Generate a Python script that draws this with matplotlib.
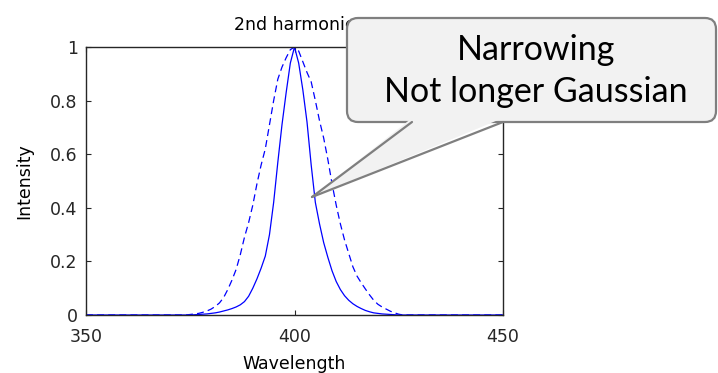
import matplotlib
matplotlib.use("Agg")
import matplotlib.pyplot as plt
from matplotlib.patches import FancyBboxPatch, Polygon
from matplotlib.lines import Line2D
from matplotlib.transforms import IdentityTransform

wavelength = [350,
              374, 375, 376, 377, 378, 379, 380, 381, 382, 383, 384, 385, 386,
              387, 388, 389, 390, 391, 392, 393, 394, 395, 396, 397, 398, 399,
              400,
              401, 402, 403, 404, 405, 406, 407, 408, 409, 410, 411, 412, 413,
              414, 415, 416, 417, 418, 419, 420, 421, 422, 423, 424, 425, 426,
              450]

# harmonic (narrower, solid)
shg = [0,
       0, 0, 0.001, 0.002, 0.003, 0.004, 0.006, 0.008, 0.011, 0.015, 0.019, 0.024, 0.03,
       0.038, 0.05, 0.07, 0.10, 0.135, 0.175, 0.22, 0.30, 0.42, 0.57, 0.71, 0.83, 0.94,
       1.0,
       0.94, 0.84, 0.72, 0.56, 0.42, 0.34, 0.27, 0.215, 0.165, 0.125, 0.095, 0.072, 0.055,
       0.042, 0.032, 0.024, 0.017, 0.012, 0.008, 0.006, 0.004, 0.003, 0.002, 0.001, 0, 0,
       0]

# gaussian reference (dashed)
gauss = [0,
         0, 0.002, 0.004, 0.006, 0.01, 0.015, 0.022, 0.032, 0.045, 0.065, 0.095, 0.13, 0.17,
         0.225, 0.29, 0.345, 0.41, 0.49, 0.56, 0.62, 0.71, 0.80, 0.88, 0.925, 0.96, 0.99,
         1.0,
         0.985, 0.945, 0.905, 0.87, 0.80, 0.725, 0.66, 0.58, 0.49, 0.41, 0.34, 0.28, 0.23,
         0.18, 0.145, 0.12, 0.097, 0.075, 0.055, 0.04, 0.03, 0.022, 0.014, 0.008, 0.003, 0,
         0]

yticks = [0, 0.2, 0.4, 0.6, 0.8, 1]
ytick_labels = ["0", "0.2", "0.4", "0.6", "0.8", "1"]
xticks = [350, 400, 450]

plt.rcParams["lines.scale_dashes"] = False
W, H = 718, 373
fig = plt.figure(figsize=(W / 100, H / 100), dpi=100)
ax = fig.add_axes([86 / W, 1 - 315 / H, (503 - 86) / W, (315 - 47) / H])

ax.plot(wavelength, shg, color="#0000ff", lw=0.9)
ax.plot(wavelength, gauss, color="#0000ff", lw=0.9, ls=(0, (5, 3)))

ax.set_xlim(350, 450)
ax.set_ylim(0, 1)
ax.set_xticks(xticks)
ax.set_yticks(yticks)
ax.set_yticklabels(ytick_labels)
ax.tick_params(direction="in", length=3.5, width=0.8, top=True, right=True,
               labelsize=12.5, pad=6, colors="#262626")
ax.tick_params(axis="x", pad=9)
for s in ax.spines.values():
    s.set_linewidth(1.0)
    s.set_color("#262626")
ax.set_xlabel("Wavelength", fontsize=12.5, labelpad=7)
ax.set_ylabel("Intensity", fontsize=12.5, labelpad=12)
ax.set_title("2nd harmonic", fontsize=12.5, pad=12)

# callout (display pixels, y from bottom)
def p(x, y):
    return (x, H - y)

fill = "#f2f2f2"
edge = "#7f7f7f"
x0, y0 = p(347, 122)
box = FancyBboxPatch((x0, y0), 716 - 347, 122 - 18,
                     boxstyle="round,pad=0,rounding_size=11",
                     transform=IdentityTransform(), fc=fill, ec=edge, lw=1.6, zorder=5)
fig.add_artist(box)
tri = Polygon([p(412, 118), p(312, 197), p(503, 118)], closed=True,
              transform=IdentityTransform(), fc=fill, ec="none", zorder=6)
fig.add_artist(tri)
for bx in (412, 503):
    (xa, ya), (xb, yb) = p(bx, 122), p(312, 197)
    fig.add_artist(Line2D([xa, xb], [ya, yb], transform=IdentityTransform(),
                          color=edge, lw=1.6, zorder=7, solid_capstyle="round"))
fig.text(536 / W, 1 - 71 / H, "Narrowing\nNot longer Gaussian", ha="center", va="center",
         fontsize=24.5, family="Lato", linespacing=1.4, zorder=8)

fig.savefig("out.png", dpi=100)
